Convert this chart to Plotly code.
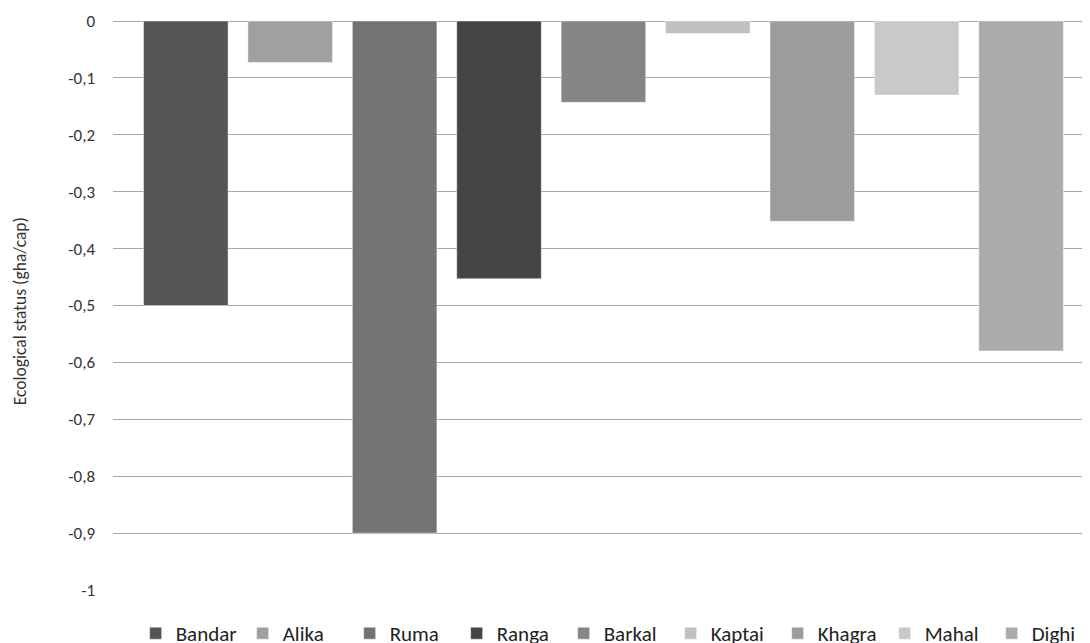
import plotly.graph_objects as go

names = ["Bandar", "Alika", "Ruma", "Ranga", "Barkal", "Kaptai", "Khagra", "Mahal", "Dighi"]
values = [-0.50, -0.073, -0.90, -0.453, -0.143, -0.022, -0.352, -0.13, -0.58]
colors = ["#555555", "#a0a0a0", "#737373", "#454545", "#858585",
          "#c0c0c0", "#9c9c9c", "#c9c9c9", "#ababab"]
tick_vals = [0, -0.1, -0.2, -0.3, -0.4, -0.5, -0.6, -0.7, -0.8, -0.9, -1]
tick_text = ["0", "-0,1", "-0,2", "-0,3", "-0,4", "-0,5", "-0,6", "-0,7", "-0,8", "-0,9", "-1"]

FONT = "Carlito, Lato, 'Open Sans', sans-serif"

fig = go.Figure()
for n, v, c in zip(names, values, colors):
    fig.add_trace(go.Bar(x=[""], y=[v], name=n,
                         marker=dict(color=c, line=dict(width=1, color="rgba(255,255,255,0.45)"))))

# page has an 8px body margin: margins below compensate for it
fig.update_layout(
    width=1090, height=643,
    paper_bgcolor="white", plot_bgcolor="white",
    barmode="group", bargap=0.046, bargroupgap=0.19,
    margin=dict(l=105, r=0, t=13, b=61, autoexpand=False),
    font=dict(family=FONT, color="#333333"),
    showlegend=True,
    legend=dict(orientation="h", x=0.023, xanchor="left", y=-0.0405, yanchor="top",
                font=dict(size=21, family=FONT, color="#222222"),
                itemwidth=30, entrywidth=62, entrywidthmode="pixels",
                traceorder="normal", bgcolor="rgba(0,0,0,0)"),
    xaxis=dict(range=[-0.4979, 0.5021], showticklabels=False, showgrid=False,
               zeroline=False, showline=False, ticks=""),
    yaxis=dict(range=[-1, 0], tickvals=tick_vals, ticktext=tick_text,
               tickfont=dict(size=17, family=FONT, color="#333333"),
               showgrid=True, gridcolor="#a8a8a8", gridwidth=1.3,
               zeroline=True, zerolinecolor="#a8a8a8", zerolinewidth=1.3,
               showline=False, ticks="", ticklabelstandoff=17),
    annotations=[dict(text="Ecological status (gha/cap)", xref="paper", yref="paper",
                      x=-0.0944, y=0.49, xanchor="center", yanchor="middle",
                      textangle=-90, showarrow=False,
                      font=dict(size=17.5, family=FONT, color="#333333"))],
)

fig.write_html("out.html")
